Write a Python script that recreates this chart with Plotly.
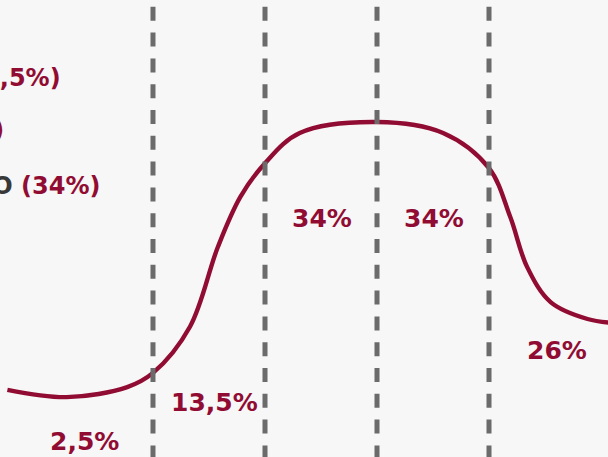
import plotly.graph_objects as go

# Curve: x in standard deviations from the mean, y in relative height units (0-100)
curve_x = [-3.30, -2.77, -2.23, -2.00, -1.67, -1.42, -1.22, -1.00, -0.69, 0.00,
           0.59, 1.00, 1.19, 1.34, 1.55, 1.88, 2.13]
curve_y = [14.7, 13.1, 15.3, 18.4, 28.5, 46.0, 56.9, 64.3, 70.9, 73.3,
           70.9, 63.2, 52.5, 41.6, 33.9, 30.2, 29.3]

# Segment boundaries (dashed lines), in standard deviations
boundaries = [-2, -1, 0, 1]

# Segment labels
seg_labels = ["2,5%", "13,5%", "34%", "34%", "26%"]
seg_x = [-2.61, -1.45, -0.49, 0.51, 1.61]
seg_y = [3.4, 12.0, 52.1, 52.1, 23.2]

# Legend rows (left, partly cut off)
legend_names = ["INOVADORES", "ADOTANTES INICIAIS", "MAIORIA DO INÍCIO"]
legend_pcts = ["(2,5%)", "(13,5%)", "(34%)"]

CRIMSON = "#910c33"
GRAY = "#6b6b6b"
DARK = "#383838"
FONT = "DejaVu Sans"

fig = go.Figure()

fig.add_trace(go.Scatter(x=curve_x, y=curve_y, mode="lines",
                         line=dict(color=CRIMSON, width=4.4, shape="spline", smoothing=1.0),
                         hoverinfo="skip", showlegend=False))

for b in boundaries:
    fig.add_shape(type="line", xref="x", yref="paper", x0=b, x1=b, y0=1 + 19 / 457, y1=-0.05,
                  line=dict(color=GRAY, width=5, dash="14px,11.8px"), layer="above")

for t, x, y in zip(seg_labels, seg_x, seg_y):
    fig.add_annotation(x=x, y=y, xref="x", yref="y", text=f"<b>{t}</b>", showarrow=False,
                       font=dict(family=FONT, size=25, color=CRIMSON),
                       xanchor="center", yanchor="middle")

legend_right = [63, 6, 102]
legend_ypx = [78, 130, 185]
for name, pct, xr, yp in zip(legend_names, legend_pcts, legend_right, legend_ypx):
    fig.add_annotation(x=xr / 608, y=1 - yp / 457, xref="paper", yref="paper",
                       text=f"<b><span style='color:{DARK}'>{name}</span> {pct}</b>", showarrow=False,
                       font=dict(family=FONT, size=24, color=CRIMSON),
                       xanchor="right", yanchor="middle")

fig.update_layout(
    width=608, height=457, autosize=False,
    margin=dict(l=0, r=0, t=0, b=0),
    paper_bgcolor="#f7f7f7", plot_bgcolor="#f7f7f7",
    xaxis=dict(range=[-3.366, 2.0625], visible=False, fixedrange=True),
    yaxis=dict(range=[0, 100], visible=False, fixedrange=True),
    showlegend=False,
)

fig.write_html("out.html", config={"displayModeBar": False},
               post_script="document.body.style.margin='0';")
